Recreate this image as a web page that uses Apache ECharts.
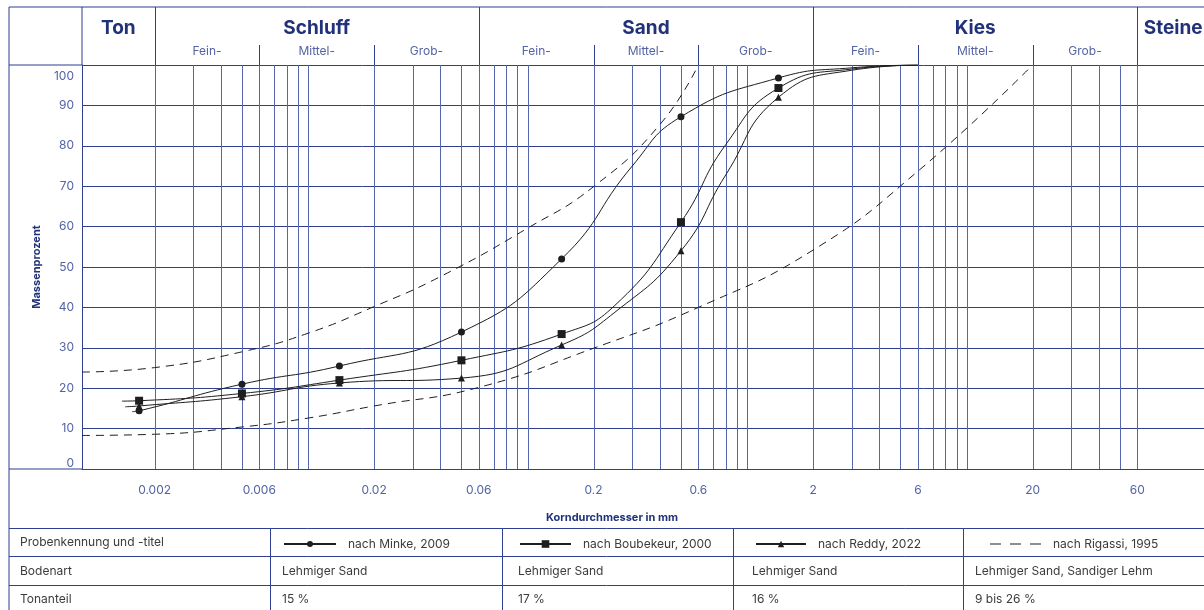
<!DOCTYPE html>
<html><head><meta charset="utf-8">
<script src="https://cdn.jsdelivr.net/npm/echarts@6.0.0/dist/echarts.min.js"></script>
<style>html,body{margin:0;padding:0;background:#fff}#c{width:1204px;height:610px}</style>
</head><body><div id="c"></div>
<script>
// ---------- data ----------
const xMin = 0.000934, xMax = 120.7;
const xTickValues = [0.002, 0.006, 0.02, 0.06, 0.2, 0.6, 2, 6, 20, 60];
const xTickLabels = ['0.002', '0.006', '0.02', '0.06', '0.2', '0.6', '2', '6', '20', '60'];
const gridXValues = [0.002, 0.003, 0.004, 0.005, 0.006, 0.007, 0.008, 0.009,
  0.01, 0.02, 0.03, 0.04, 0.05, 0.06, 0.07, 0.08, 0.09,
  0.1, 0.2, 0.3, 0.4, 0.5, 0.6, 0.7, 0.8, 0.9,
  1, 2, 3, 4, 5, 6, 7, 8, 9, 10, 20, 30, 40, 50, 60];

const classNames = ['Ton', 'Schluff', 'Sand', 'Kies', 'Steine'];
const classBounds = [0.000934, 0.002, 0.06, 2, 60, 127];
const subNames = ['Fein-', 'Mittel-', 'Grob-'];
const subBoundsSchluff = [0.002, 0.006, 0.02, 0.06];
const subBoundsSand = [0.06, 0.2, 0.6, 2];
const subBoundsKies = [2, 6, 20, 60];

// sieve points with markers (mm)
const sampleX = [0.0017, 0.005, 0.0139, 0.05, 0.143, 0.5, 1.39];
const minkeY = [14.4, 21.0, 25.5, 33.9, 52.0, 87.2, 96.8];
const boubekeurY = [16.9, 18.7, 22.0, 26.9, 33.4, 61.1, 94.3];
const reddyY = [15.6, 17.9, 21.3, 22.5, 30.7, 54.0, 92.0];
// further points (no marker)
const minkeCurve = [[0.00158, 14.2], [0.3, 75.0], [3, 99.3], [6, 100]];
const boubekeurCurve = [[0.00142, 16.8], [0.25, 40.5], [0.8, 80.3], [3, 99.0], [6, 100]];
const reddyCurve = [[0.00147, 15.4], [0.25, 38.8], [0.8, 72.8], [3, 98.7], [6, 100]];
// Rigassi envelope (dashed)
const rigassiUpperX = [0.000934, 0.002, 0.005, 0.01, 0.02, 0.04, 0.1, 0.2, 0.4, 0.6];
const rigassiUpperY = [24.0, 25.1, 29.0, 33.6, 40.2, 47.6, 59.6, 69.9, 85.2, 100];
const rigassiLowerX = [0.000934, 0.002, 0.005, 0.01, 0.02, 0.06, 0.2, 0.6, 2, 6, 20];
const rigassiLowerY = [8.3, 8.6, 10.4, 12.6, 15.6, 20.2, 29.9, 40.0, 54.2, 73.7, 100];

const legendNames = ['nach Minke, 2009', 'nach Boubekeur, 2000', 'nach Reddy, 2022', 'nach Rigassi, 1995'];
const tableRowLabels = ['Probenkennung und -titel', 'Bodenart', 'Tonanteil'];
const bodenart = ['Lehmiger Sand', 'Lehmiger Sand', 'Lehmiger Sand', 'Lehmiger Sand, Sandiger Lehm'];
const tonanteil = ['15 %', '17 %', '16 %', '9 bis 26 %'];

// ---------- style ----------
const NAVY = '#2f3f92';
const VLINE = '#5565ae';
const TITLE = '#22327a';
const SOFT = '#5363a5';
const INK = '#1e1e1e';
const TXT = '#3b3b3b';
const FONT = 'Inter, "Noto Sans", sans-serif';

function buildSeries(ys, curve) {
  const d = sampleX.map((x, i) => ({ value: [x, ys[i]] }));
  curve.forEach(p => d.push({ value: p, symbol: 'none' }));
  d.sort((a, b) => a.value[0] - b.value[0]);
  return d;
}
function pairs(xs, ys) { return xs.map((x, i) => [x, ys[i]]); }

const chart = echarts.init(document.getElementById('c'));

const solidBase = {
  type: 'line', smooth: 0.5, showAllSymbol: true,
  lineStyle: { color: INK, width: 1 }, itemStyle: { color: INK }, color: INK,
  emphasis: { disabled: true }, silent: true, z: 5
};
const legendBase = {
  orient: 'horizontal', padding: 0, selectedMode: false, itemGap: 0,
  textStyle: { fontFamily: FONT, fontSize: 12, color: TXT, padding: [0, 0, 0, 7] }
};

const option = {
  animation: false,
  textStyle: { fontFamily: FONT },
  grid: { left: 82, right: 0, top: 65, bottom: 141, containLabel: false },
  xAxis: {
    type: 'log', logBase: 10, min: xMin, max: xMax,
    name: 'Korndurchmesser in mm', nameLocation: 'middle', nameGap: 43,
    nameTextStyle: { fontFamily: FONT, fontSize: 11, fontWeight: 'bold', color: TITLE, padding: [0, 62, 0, 0] },
    axisLine: { show: true, lineStyle: { color: NAVY, width: 1 } },
    axisTick: { show: false },
    splitLine: { show: false },
    minorTick: { show: false },
    minorSplitLine: { show: false },
    axisLabel: {
      show: true, customValues: xTickValues, margin: 15,
      fontFamily: FONT, fontSize: 12, color: SOFT,
      formatter: function (v) {
        let best = 0, bd = Infinity;
        xTickValues.forEach((t, i) => { const d = Math.abs(Math.log10(v) - Math.log10(t)); if (d < bd) { bd = d; best = i; } });
        return xTickLabels[best];
      }
    }
  },
  yAxis: {
    type: 'value', min: 0, max: 100, interval: 10,
    name: 'Massenprozent', nameLocation: 'middle', nameGap: 40,
    nameTextStyle: { fontFamily: FONT, fontSize: 11, fontWeight: 'bold', color: TITLE },
    axisLine: { show: true, lineStyle: { color: NAVY, width: 1 } },
    axisTick: { show: false },
    splitLine: { show: true, lineStyle: { color: NAVY, width: 1 } },
    axisLabel: {
      margin: 8, fontFamily: FONT, fontSize: 12, color: SOFT,
      verticalAlignMinLabel: 'bottom', verticalAlignMaxLabel: 'top',
      formatter: function (v) { return v === 100 ? '{t|100}' : String(v); },
      rich: { t: { fontFamily: FONT, fontSize: 12, color: SOFT, padding: [5, 0, 0, 0] } }
    }
  },
  legend: [
    Object.assign({}, legendBase, { data: [legendNames[0]], left: 283, top: 538, itemWidth: 52, itemHeight: 7.5 }),
    Object.assign({}, legendBase, { data: [legendNames[1]], left: 519, top: 538, itemWidth: 51, itemHeight: 9.5 }),
    Object.assign({}, legendBase, { data: [legendNames[2]], left: 755, top: 538, itemWidth: 50, itemHeight: 8 }),
    Object.assign({}, legendBase, {
      data: [{ name: legendNames[3], icon: 'path://M0,3.4h11v1.2h-11zM20,3.4h11v1.2h-11zM40,3.4h11v1.2h-11z' }],
      left: 990, top: 538, itemWidth: 51, itemHeight: 8
    })
  ],
  series: [
    Object.assign({}, solidBase, { name: legendNames[0], symbol: 'circle', symbolSize: 7, data: buildSeries(minkeY, minkeCurve) }),
    Object.assign({}, solidBase, { name: legendNames[1], symbol: 'rect', symbolSize: 8, data: buildSeries(boubekeurY, boubekeurCurve) }),
    Object.assign({}, solidBase, { name: legendNames[2], symbol: 'triangle', symbolSize: 7, data: buildSeries(reddyY, reddyCurve) }),
    {
      type: 'line', name: legendNames[3], smooth: 0.5, symbol: 'none', silent: true, z: 4,
      color: INK, itemStyle: { color: INK },
      lineStyle: { color: INK, width: 1, type: [8, 6] },
      data: pairs(rigassiUpperX, rigassiUpperY)
    },
    {
      type: 'line', name: legendNames[3], smooth: 0.5, symbol: 'none', silent: true, z: 4,
      color: INK, itemStyle: { color: INK },
      lineStyle: { color: INK, width: 1, type: [8, 6] },
      data: pairs(rigassiLowerX, rigassiLowerY)
    }
  ]
};

chart.setOption(option);

// ---------- grid lines, header and table frame (positions from the axis scales) ----------
const X = v => chart.convertToPixel({ xAxisIndex: 0 }, v);
const Y = v => chart.convertToPixel({ yAxisIndex: 0 }, v);
const W = 1204;
const frameLeft = 9, frameTop = 7;
const y100 = Y(100), y0 = Y(0);
const g = [];
function ln(x1, y1, x2, y2, color) {
  g.push({ type: 'line', silent: true, z: 1, shape: { x1, y1, x2, y2 }, style: { stroke: color || NAVY, lineWidth: 1 } });
}
function tx(text, x, y, size, weight, color, align) {
  g.push({ type: 'text', silent: true, z: 1, x, y, style: { text, fontFamily: FONT, fontSize: size, fontWeight: weight, fill: color, align: align || 'center', verticalAlign: 'middle' } });
}
gridXValues.forEach(v => { const x = Math.round(X(v)) + 0.5; ln(x, y100, x, y0, VLINE); });
ln(frameLeft, frameTop, W, frameTop);
ln(frameLeft, frameTop, frameLeft, 610);
ln(frameLeft, y100, 82, y100);
ln(frameLeft, y0, 82, y0);
ln(82, frameTop, 82, y100);
for (let i = 1; i < classBounds.length - 1; i++) { const x = Math.round(X(classBounds[i])) + 0.5; ln(x, frameTop, x, y100); }
for (let i = 0; i < classNames.length; i++) {
  const a = i === 0 ? 82 : X(classBounds[i]);
  const b = X(classBounds[i + 1]);
  tx(classNames[i], (a + b) / 2, 28, 19, 'bold', TITLE);
}
[subBoundsSchluff, subBoundsSand, subBoundsKies].forEach(bounds => {
  [1, 2].forEach(k => { const x = Math.round(X(bounds[k])) + 0.5; ln(x, 45, x, y100); });
  for (let k = 0; k < 3; k++) tx(subNames[k], (X(bounds[k]) + X(bounds[k + 1])) / 2, 51, 12, 'normal', SOFT);
});
// table
const rowLines = [528.5, 556.5, 585.5];
const rowMid = [542, 571, 599];
const colLines = [270.5, 502.5, 733.5, 963.5];
const colText = [282, 518, 752, 975];
rowLines.forEach(y => ln(frameLeft, y, W, y));
colLines.forEach(x => ln(x, rowLines[0], x, 610));
tableRowLabels.forEach((t, i) => tx(t, 20, rowMid[i], 12, 'normal', TXT, 'left'));
bodenart.forEach((t, i) => tx(t, colText[i], rowMid[1], 12, 'normal', TXT, 'left'));
tonanteil.forEach((t, i) => tx(t, colText[i], rowMid[2], 12, 'normal', TXT, 'left'));

chart.setOption({ graphic: g });
</script>
</body></html>
